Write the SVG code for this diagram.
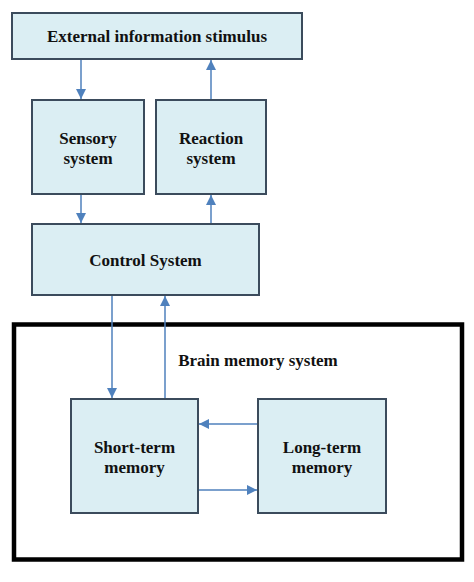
<svg xmlns="http://www.w3.org/2000/svg" width="474" height="582" viewBox="0 0 474 582">
<style>
.box{fill:#dbeef3;stroke:#3b4b5c;stroke-width:2}
.t{font-family:"Liberation Serif","Times New Roman",serif;font-weight:bold;font-size:17px;fill:#111;text-anchor:middle}
.c{stroke:#4f81bd;stroke-width:1.5;fill:none;marker-end:url(#ah)}
</style>
<defs>
<marker id="ah" viewBox="0 0 10 10" refX="10" refY="5" markerWidth="10" markerHeight="10" markerUnits="userSpaceOnUse" orient="auto">
<path d="M0,0 L10,5 L0,10 Z" fill="#4f81bd"/>
</marker>
</defs>
<rect width="474" height="582" fill="#fff"/>
<g id="frame">
<rect x="14" y="324.5" width="448" height="235" fill="none" stroke="#000" stroke-width="4.5"/>
<text class="t" x="258" y="366">Brain memory system</text>
</g>
<g id="external">
<rect class="box" x="12" y="13" width="290" height="46"/>
<text class="t" x="157" y="42">External information stimulus</text>
</g>
<g id="sensory">
<rect class="box" x="32" y="100" width="112" height="94"/>
<text class="t" x="88" y="144">Sensory</text>
<text class="t" x="88" y="164">system</text>
</g>
<g id="reaction">
<rect class="box" x="156" y="100" width="110" height="94"/>
<text class="t" x="211" y="144">Reaction</text>
<text class="t" x="211" y="164">system</text>
</g>
<g id="control">
<rect class="box" x="32" y="224" width="227" height="71"/>
<text class="t" x="145.5" y="266">Control System</text>
</g>
<g id="shortterm">
<rect class="box" x="71" y="399" width="127" height="114"/>
<text class="t" x="134.5" y="453">Short-term</text>
<text class="t" x="134.5" y="473">memory</text>
</g>
<g id="longterm">
<rect class="box" x="258" y="399" width="128" height="114"/>
<text class="t" x="322" y="453">Long-term</text>
<text class="t" x="322" y="473">memory</text>
</g>
<g id="connectors">
<path class="c" d="M81,60 V99"/>
<path class="c" d="M211,99 V60"/>
<path class="c" d="M81,195 V223"/>
<path class="c" d="M211,223 V195"/>
<path class="c" d="M112,296 V398"/>
<path class="c" d="M165,398 V296"/>
<path class="c" d="M257,424 H199"/>
<path class="c" d="M199,490 H257"/>
</g>
</svg>
